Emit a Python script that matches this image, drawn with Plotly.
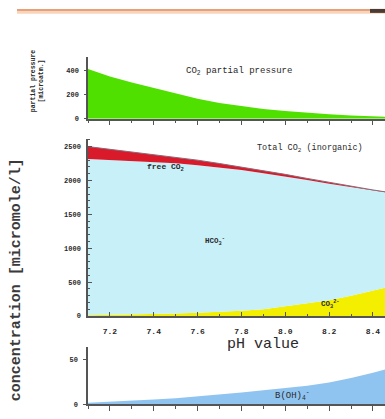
import plotly.graph_objects as go

# ---- data ----
ph = [7.1, 7.2, 7.3, 7.4, 7.5, 7.6, 7.7, 7.8, 7.9, 8.0, 8.1, 8.2, 8.3, 8.4, 8.46]
pco2 = [410, 350, 300, 255, 205, 165, 130, 105, 82, 65, 50, 38, 28, 20, 16]
dic_total = [2500, 2460, 2425, 2390, 2345, 2300, 2250, 2200, 2145, 2090, 2030, 1970, 1915, 1860, 1830]
free_co2 = [185, 158, 135, 115, 92, 74, 58, 47, 37, 29, 22, 17, 13, 9, 7]
carbonate = [12, 16, 22, 28, 36, 46, 60, 78, 100, 140, 180, 230, 300, 370, 420]
borate = [1.5, 2.5, 3.5, 5, 6.5, 8.5, 10.5, 13, 15.5, 18, 20.5, 24, 29, 35, 39]

x_ticks = [7.2, 7.4, 7.6, 7.8, 8.0, 8.2, 8.4]
x_ticklabels = ["7.2", "7.4", "7.6", "7.8", "8.0", "8.2", "8.4"]
conc_ticks = [0, 500, 1000, 1500, 2000, 2500]
pp_ticks = [0, 200, 400]
bor_ticks = [0, 50]

bicarbonate = [t - f - c for t, f, c in zip(dic_total, free_co2, carbonate)]

W, H = 385, 419
def py(p):
    return 1 - p / H
def px(p):
    return p / W

FONT = "Liberation Mono"
TXT = "#2a2a2a"
AX = "#555555"

fig = go.Figure()

# top panel: CO2 partial pressure
fig.add_trace(go.Scatter(x=ph, y=pco2, fill="tozeroy", mode="lines",
                         line=dict(width=0, color="#4fe000"), fillcolor="#4fe000",
                         xaxis="x", yaxis="y", hoverinfo="skip"))

# middle panel: stacked species
fig.add_trace(go.Scatter(x=ph, y=carbonate, stackgroup="c", mode="lines",
                         line=dict(width=0, color="#f4ee00"), fillcolor="#f4ee00",
                         xaxis="x2", yaxis="y2"))
fig.add_trace(go.Scatter(x=ph, y=bicarbonate, stackgroup="c", mode="lines",
                         line=dict(width=0, color="#c8f0f8"), fillcolor="#c8f0f8",
                         xaxis="x2", yaxis="y2"))
fig.add_trace(go.Scatter(x=ph, y=free_co2, stackgroup="c", mode="lines",
                         line=dict(width=0, color="#d81a2a"), fillcolor="#d81a2a",
                         xaxis="x2", yaxis="y2"))
fig.add_trace(go.Scatter(x=ph, y=dic_total, mode="lines",
                         line=dict(width=1, color="#8a6a78"),
                         xaxis="x2", yaxis="y2"))

# bottom panel: borate
fig.add_trace(go.Scatter(x=ph, y=borate, fill="tozeroy", mode="lines",
                         line=dict(width=0, color="#90c4f0"), fillcolor="#90c4f0",
                         xaxis="x3", yaxis="y3"))

xrange = [7.1, 8.455]
xdom = [px(88), 1.0]
common_x = dict(range=xrange, domain=xdom, showgrid=False, zeroline=False,
                showline=True, linecolor=AX, linewidth=1.5,
                tickvals=x_ticks, ticktext=x_ticklabels, tickcolor=AX,
                tickfont=dict(family=FONT, size=8, color=TXT, weight="bold"))
common_y = dict(showgrid=False, zeroline=False, showline=True, linecolor=AX,
                linewidth=1.5, tickcolor=AX, ticklabelstandoff=4,
                tickfont=dict(family=FONT, size=7, color=TXT, weight="bold"))

fig.update_layout(
    width=W, height=H, margin=dict(l=0, r=0, t=0, b=0),
    paper_bgcolor="white", plot_bgcolor="rgba(0,0,0,0)", showlegend=False,
    xaxis=dict(common_x, anchor="y", ticks="outside", ticklen=4, showticklabels=False,
               minor=dict(dtick=0.1, tick0=7.1, ticks="outside", ticklen=2, tickcolor=AX)),
    yaxis=dict(common_y, domain=[py(120), py(58)], range=[0, 506], anchor="x",
               tickvals=pp_ticks, ticks="outside", ticklen=2),
    xaxis2=dict(common_x, anchor="y2", ticks="inside", ticklen=4, ticklabelstandoff=7,
                minor=dict(dtick=0.1, tick0=7.1, ticks="inside", ticklen=2, tickcolor=AX)),
    yaxis2=dict(common_y, domain=[py(319), py(140)], range=[0, 2617], anchor="x2",
                tickvals=conc_ticks, ticks="inside", ticklen=4,
                minor=dict(dtick=100, ticks="inside", ticklen=2, tickcolor=AX)),
    xaxis3=dict(common_x, anchor="y3", ticks="outside", ticklen=5, showticklabels=False,
                minor=dict(dtick=0.1, tick0=7.1, ticks="outside", ticklen=3, tickcolor=AX)),
    yaxis3=dict(common_y, domain=[py(408), py(350)], range=[0, 64], anchor="x3",
                tickvals=bor_ticks, ticks="outside", ticklen=3),
)

# header bar
fig.add_shape(type="rect", xref="paper", yref="paper", x0=px(17), x1=1, y0=py(14), y1=py(9),
              fillcolor="#f8d4bc", line=dict(width=0))
fig.add_shape(type="rect", xref="paper", yref="paper", x0=px(17), x1=1, y0=py(11), y1=py(9),
              fillcolor="#e8a078", line=dict(width=0))
fig.add_shape(type="rect", xref="paper", yref="paper", x0=px(370), x1=1, y0=py(13), y1=py(9),
              fillcolor="#4a3a32", line=dict(width=0))

def ann(text, x, y, size=8, angle=0, family=FONT, color=TXT, xanchor="center"):
    fig.add_annotation(text=text, x=px(x), y=py(y), xref="paper", yref="paper",
                       showarrow=False, textangle=angle, xanchor=xanchor, yanchor="middle",
                       font=dict(family=family, size=size, color=color))

ann("CO<sub>2</sub> partial pressure", 239, 72, size=9)
ann("Total CO<sub>2</sub> (inorganic)", 310, 150, size=8.5)
ann("<b>free CO<sub>2</sub></b>", 166, 169, size=8)
ann("<b>HCO<sub>3</sub><sup>-</sup></b>", 215, 244, size=7.5)
ann("<b>CO<sub>3</sub><sup>2-</sup></b>", 330, 307, size=7.5)
ann("pH value", 263, 348, size=15)
ann("B(OH)<sub>4</sub><sup>-</sup>", 292, 399, size=9)
ann("<b>concentration [micromole/l]</b>", 16, 283, size=15, angle=-90, color="#3a3a3a")
ann("<b>partial pressure<br>[microatm.]</b>", 37, 82, size=6.5, angle=-90)

fig.write_html("out.html")
